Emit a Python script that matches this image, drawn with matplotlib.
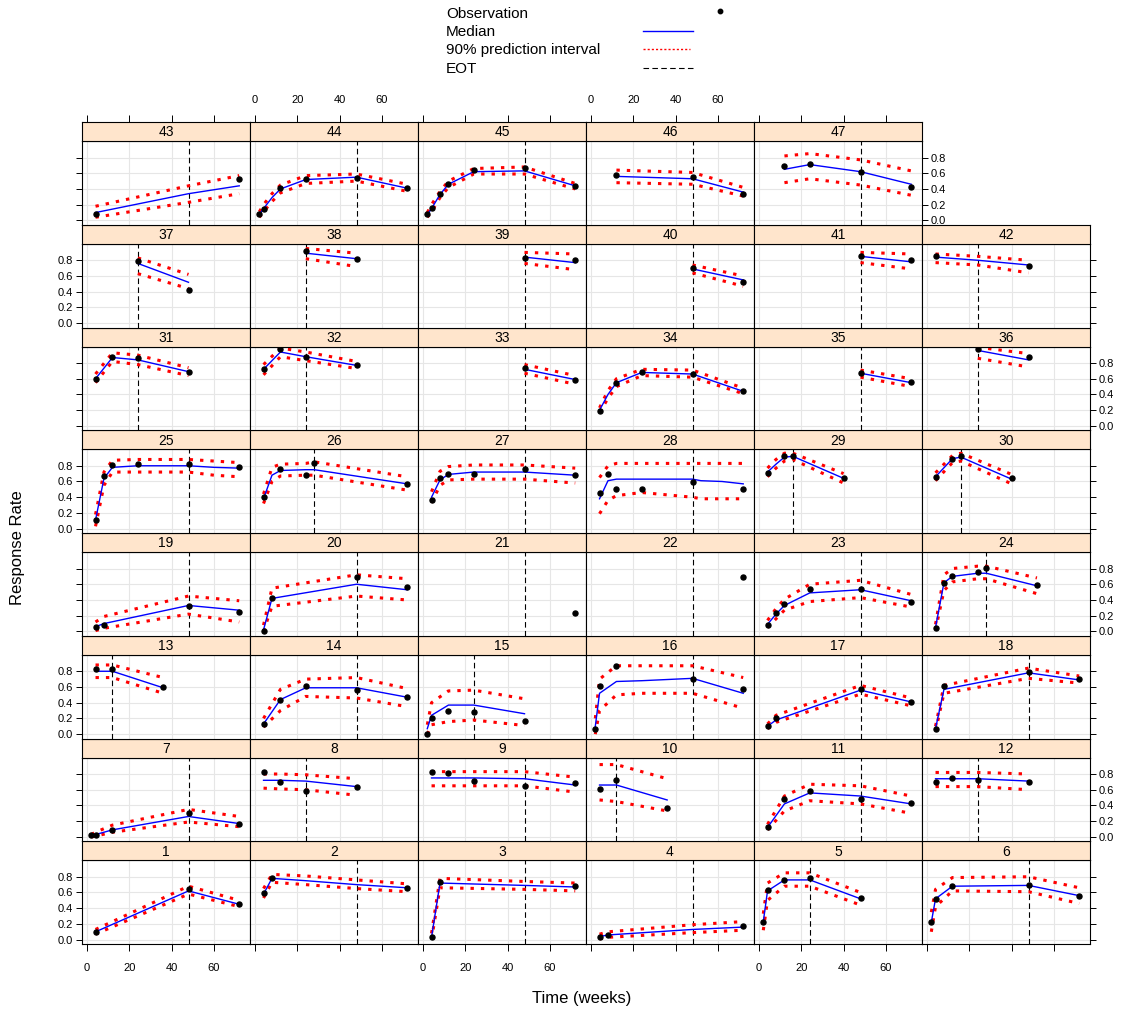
import matplotlib
matplotlib.use("Agg")
import matplotlib.pyplot as plt
from matplotlib.lines import Line2D

plt.rcParams['font.family'] = ['Liberation Sans', 'DejaVu Sans']

# observed response rate per subject (weeks, rate)
obs_t = {
    1: [4, 48, 72], 2: [4, 8, 72], 3: [4, 8, 72], 4: [4, 8, 72],
    5: [2, 4, 12, 24, 48], 6: [2, 4, 12, 48, 72],
    7: [2, 4, 12, 48, 72], 8: [4, 12, 24, 48], 9: [4, 12, 24, 48, 72],
    10: [4, 12, 36], 11: [4, 12, 24, 48, 72], 12: [4, 12, 24, 48],
    13: [4, 12, 36], 14: [4, 12, 24, 48, 72], 15: [2, 4, 12, 24, 48],
    16: [2, 4, 12, 48, 72], 17: [4, 8, 48, 72], 18: [4, 8, 48, 72],
    19: [4, 8, 48, 72], 20: [4, 8, 48, 72], 21: [72], 22: [72],
    23: [4, 8, 12, 24, 48, 72], 24: [4, 8, 12, 24, 28, 52],
    25: [4, 8, 12, 24, 48, 72], 26: [4, 12, 24, 28, 72],
    27: [4, 8, 12, 24, 48, 72], 28: [4, 8, 12, 24, 48, 72],
    29: [4, 12, 16, 40], 30: [4, 12, 16, 40],
    31: [4, 12, 24, 48], 32: [4, 12, 24, 48], 33: [48, 72],
    34: [4, 12, 24, 48, 72], 35: [48, 72], 36: [24, 48],
    37: [24, 48], 38: [24, 48], 39: [48, 72], 40: [48, 72], 41: [48, 72],
    42: [4, 48], 43: [4, 72], 44: [2, 4, 12, 24, 48, 72],
    45: [2, 4, 8, 12, 24, 48, 72], 46: [12, 48, 72], 47: [12, 24, 48, 72],
}
obs_y = {
    1: [0.10, 0.64, 0.46], 2: [0.59, 0.78, 0.66], 3: [0.03, 0.73, 0.68],
    4: [0.03, 0.06, 0.17], 5: [0.23, 0.63, 0.76, 0.79, 0.53],
    6: [0.22, 0.52, 0.68, 0.70, 0.56],
    7: [0.02, 0.02, 0.09, 0.31, 0.17], 8: [0.83, 0.70, 0.59, 0.63],
    9: [0.83, 0.81, 0.71, 0.65, 0.69], 10: [0.61, 0.72, 0.37],
    11: [0.12, 0.48, 0.59, 0.48, 0.43], 12: [0.70, 0.75, 0.72, 0.70],
    13: [0.83, 0.83, 0.60], 14: [0.13, 0.44, 0.61, 0.56, 0.47],
    15: [0.00, 0.21, 0.30, 0.28, 0.17], 16: [0.07, 0.61, 0.87, 0.70, 0.57],
    17: [0.10, 0.20, 0.58, 0.41], 18: [0.07, 0.61, 0.79, 0.70],
    19: [0.05, 0.08, 0.32, 0.25], 20: [0.01, 0.43, 0.69, 0.56],
    21: [0.24], 22: [0.69],
    23: [0.08, 0.23, 0.35, 0.54, 0.54, 0.38],
    24: [0.04, 0.62, 0.70, 0.75, 0.81, 0.59],
    25: [0.11, 0.67, 0.81, 0.82, 0.82, 0.79],
    26: [0.40, 0.76, 0.68, 0.83, 0.57],
    27: [0.37, 0.64, 0.70, 0.70, 0.76, 0.68],
    28: [0.45, 0.70, 0.51, 0.51, 0.59, 0.51],
    29: [0.71, 0.93, 0.93, 0.64], 30: [0.66, 0.89, 0.92, 0.64],
    31: [0.60, 0.88, 0.87, 0.69], 32: [0.72, 0.98, 0.88, 0.78],
    33: [0.74, 0.59], 34: [0.19, 0.55, 0.69, 0.66, 0.44], 35: [0.67, 0.56],
    36: [0.98, 0.88], 37: [0.79, 0.42], 38: [0.92, 0.82], 39: [0.83, 0.80],
    40: [0.70, 0.52], 41: [0.86, 0.80], 42: [0.86, 0.73], 43: [0.08, 0.53],
    44: [0.08, 0.15, 0.41, 0.53, 0.54, 0.41],
    45: [0.08, 0.16, 0.34, 0.46, 0.64, 0.67, 0.44],
    46: [0.58, 0.55, 0.34], 47: [0.69, 0.72, 0.62, 0.42],
}

# simulated median and 90% interval; times default to the observation times
pred_t = {
    2: [4, 8, 24, 48, 72], 3: [4, 8, 48, 72], 4: [4, 8, 48, 72],
    7: [2, 4, 12, 48, 72], 11: [4, 12, 24, 48, 72], 12: [4, 24, 48],
    16: [2, 4, 12, 24, 48, 72], 21: [], 22: [],
    25: [4, 8, 12, 24, 48, 60, 72], 26: [4, 8, 12, 24, 28, 72],
    28: [4, 8, 12, 24, 48, 52, 62, 72], 29: [4, 8, 12, 16, 40],
    34: [4, 8, 12, 24, 48, 72], 42: [4, 24, 48], 43: [4, 48, 72],
    44: [2, 4, 8, 12, 24, 48, 72],
}
pred_med = {
    1: [0.10, 0.62, 0.45], 2: [0.58, 0.78, 0.75, 0.70, 0.66],
    3: [0.03, 0.72, 0.69, 0.67], 4: [0.04, 0.06, 0.13, 0.16],
    5: [0.23, 0.62, 0.76, 0.76, 0.52], 6: [0.22, 0.52, 0.68, 0.69, 0.56],
    7: [0.02, 0.03, 0.09, 0.26, 0.17], 8: [0.72, 0.72, 0.71, 0.64],
    9: [0.75, 0.75, 0.75, 0.74, 0.66], 10: [0.66, 0.66, 0.47],
    11: [0.12, 0.42, 0.56, 0.52, 0.42], 12: [0.74, 0.74, 0.71],
    13: [0.80, 0.80, 0.59], 14: [0.13, 0.44, 0.59, 0.59, 0.47],
    15: [0.07, 0.24, 0.37, 0.37, 0.26], 16: [0.10, 0.52, 0.67, 0.68, 0.71, 0.52],
    17: [0.10, 0.18, 0.56, 0.41], 18: [0.07, 0.57, 0.78, 0.69],
    19: [0.06, 0.10, 0.33, 0.27], 20: [0.02, 0.42, 0.60, 0.53],
    21: [], 22: [],
    23: [0.09, 0.22, 0.33, 0.49, 0.53, 0.39],
    24: [0.05, 0.62, 0.70, 0.74, 0.74, 0.58],
    25: [0.11, 0.64, 0.78, 0.80, 0.80, 0.78, 0.77],
    26: [0.38, 0.68, 0.74, 0.75, 0.75, 0.57],
    27: [0.40, 0.62, 0.69, 0.72, 0.72, 0.68],
    28: [0.38, 0.61, 0.63, 0.63, 0.63, 0.61, 0.60, 0.57],
    29: [0.72, 0.82, 0.91, 0.92, 0.64], 30: [0.66, 0.89, 0.91, 0.63],
    31: [0.60, 0.87, 0.84, 0.69], 32: [0.72, 0.94, 0.88, 0.77],
    33: [0.72, 0.59], 34: [0.20, 0.40, 0.55, 0.68, 0.66, 0.44],
    35: [0.67, 0.55], 36: [0.96, 0.84], 37: [0.76, 0.52], 38: [0.89, 0.82],
    39: [0.84, 0.77], 40: [0.69, 0.55], 41: [0.85, 0.78],
    42: [0.84, 0.80, 0.74], 43: [0.10, 0.34, 0.44],
    44: [0.07, 0.15, 0.29, 0.40, 0.52, 0.55, 0.41],
    45: [0.07, 0.15, 0.33, 0.46, 0.62, 0.63, 0.44],
    46: [0.56, 0.53, 0.36], 47: [0.65, 0.71, 0.62, 0.46],
}
pred_lo = {
    1: [0.07, 0.58, 0.42], 2: [0.53, 0.73, 0.70, 0.65, 0.61],
    3: [0.00, 0.66, 0.64, 0.62], 4: [0.01, 0.03, 0.09, 0.12],
    5: [0.12, 0.50, 0.68, 0.68, 0.44], 6: [0.10, 0.42, 0.62, 0.61, 0.46],
    7: [0.00, 0.01, 0.06, 0.19, 0.13], 8: [0.62, 0.61, 0.60, 0.53],
    9: [0.65, 0.65, 0.65, 0.65, 0.57], 10: [0.47, 0.45, 0.33],
    11: [0.09, 0.33, 0.46, 0.42, 0.30], 12: [0.64, 0.64, 0.60],
    13: [0.72, 0.72, 0.52], 14: [0.09, 0.30, 0.48, 0.46, 0.35],
    15: [0.00, 0.12, 0.16, 0.18, 0.11], 16: [0.00, 0.30, 0.50, 0.52, 0.52, 0.33],
    17: [0.07, 0.15, 0.51, 0.36], 18: [0.04, 0.52, 0.71, 0.65],
    19: [0.01, 0.04, 0.22, 0.12], 20: [0.00, 0.32, 0.45, 0.40],
    21: [], 22: [],
    23: [0.05, 0.16, 0.27, 0.38, 0.43, 0.31],
    24: [0.02, 0.52, 0.63, 0.67, 0.67, 0.48],
    25: [0.03, 0.55, 0.72, 0.72, 0.72, 0.68, 0.66],
    26: [0.32, 0.60, 0.67, 0.68, 0.68, 0.49],
    27: [0.33, 0.55, 0.62, 0.63, 0.63, 0.58],
    28: [0.19, 0.36, 0.42, 0.46, 0.40, 0.38, 0.38, 0.38],
    29: [0.66, 0.77, 0.86, 0.88, 0.58], 30: [0.61, 0.84, 0.86, 0.57],
    31: [0.55, 0.82, 0.78, 0.64], 32: [0.65, 0.88, 0.83, 0.73],
    33: [0.67, 0.53], 34: [0.17, 0.35, 0.50, 0.64, 0.62, 0.41],
    35: [0.62, 0.50], 36: [0.86, 0.75], 37: [0.63, 0.44], 38: [0.82, 0.72],
    39: [0.76, 0.68], 40: [0.64, 0.47], 41: [0.77, 0.69],
    42: [0.77, 0.74, 0.64], 43: [0.04, 0.23, 0.34],
    44: [0.04, 0.11, 0.24, 0.35, 0.47, 0.50, 0.37],
    45: [0.04, 0.11, 0.29, 0.42, 0.59, 0.59, 0.40],
    46: [0.48, 0.46, 0.31], 47: [0.48, 0.53, 0.45, 0.32],
}
pred_hi = {
    1: [0.13, 0.68, 0.50], 2: [0.65, 0.83, 0.81, 0.76, 0.71],
    3: [0.08, 0.78, 0.74, 0.72], 4: [0.07, 0.10, 0.19, 0.23],
    5: [0.33, 0.72, 0.85, 0.85, 0.60], 6: [0.35, 0.64, 0.79, 0.80, 0.66],
    7: [0.03, 0.06, 0.15, 0.35, 0.26], 8: [0.80, 0.80, 0.79, 0.74],
    9: [0.83, 0.83, 0.83, 0.83, 0.76], 10: [0.92, 0.92, 0.74],
    11: [0.16, 0.52, 0.67, 0.65, 0.52], 12: [0.82, 0.82, 0.80],
    13: [0.88, 0.88, 0.72], 14: [0.20, 0.57, 0.70, 0.72, 0.58],
    15: [0.12, 0.40, 0.55, 0.56, 0.45], 16: [0.20, 0.70, 0.87, 0.87, 0.87, 0.72],
    17: [0.13, 0.24, 0.62, 0.46], 18: [0.10, 0.62, 0.84, 0.74],
    19: [0.12, 0.19, 0.45, 0.39], 20: [0.08, 0.55, 0.72, 0.67],
    21: [], 22: [],
    23: [0.14, 0.29, 0.41, 0.60, 0.65, 0.47],
    24: [0.09, 0.72, 0.80, 0.83, 0.83, 0.68],
    25: [0.18, 0.72, 0.87, 0.88, 0.88, 0.86, 0.84],
    26: [0.44, 0.78, 0.82, 0.83, 0.85, 0.66],
    27: [0.47, 0.73, 0.79, 0.81, 0.81, 0.77],
    28: [0.65, 0.80, 0.83, 0.83, 0.83, 0.83, 0.83, 0.83],
    29: [0.77, 0.88, 0.96, 0.96, 0.70], 30: [0.71, 0.93, 0.96, 0.69],
    31: [0.66, 0.93, 0.90, 0.74], 32: [0.78, 0.99, 0.94, 0.82],
    33: [0.78, 0.64], 34: [0.23, 0.45, 0.60, 0.72, 0.71, 0.48],
    35: [0.71, 0.60], 36: [1.00, 0.92], 37: [0.83, 0.62], 38: [0.95, 0.89],
    39: [0.90, 0.88], 40: [0.74, 0.60], 41: [0.90, 0.88],
    42: [0.88, 0.85, 0.80], 43: [0.18, 0.44, 0.57],
    44: [0.11, 0.20, 0.34, 0.45, 0.57, 0.59, 0.46],
    45: [0.10, 0.20, 0.37, 0.50, 0.66, 0.68, 0.47],
    46: [0.64, 0.61, 0.42], 47: [0.82, 0.85, 0.77, 0.63],
}

# end of treatment (weeks)
eot = {
    1: 48, 2: 48, 3: 48, 4: 48, 5: 24, 6: 48,
    7: 48, 8: 24, 9: 48, 10: 12, 11: 48, 12: 24,
    13: 12, 14: 48, 15: 24, 16: 48, 17: 48, 18: 48,
    19: 48, 20: 48, 21: 48, 22: 48, 23: 48, 24: 28,
    25: 48, 26: 28, 27: 48, 28: 48, 29: 16, 30: 16,
    31: 24, 32: 24, 33: 48, 34: 48, 35: 48, 36: 24,
    37: 24, 38: 24, 39: 48, 40: 48, 41: 48, 42: 24,
    43: 48, 44: 48, 45: 48, 46: 48, 47: 48,
}

x_ticks = [0, 20, 40, 60]
y_ticks = [0.0, 0.2, 0.4, 0.6, 0.8]
y_labels = ["0.0", "0.2", "0.4", "0.6", "0.8"]

W, H = 1143, 1015
fig = plt.figure(figsize=(W / 100, H / 100), dpi=100)


def fx(px):
    return px / W


def fy(py):
    return 1 - py / H


LEFT, PW = 82, 168
TOP, PITCH, SH = 122, 102.75, 19
XLIM = (-2.4, 77.1)
YLIM = (-0.055, 1.01)
STRIP = "#FFE5CC"
GRID = "#E6E6E6"
PI_DOTS = (1.1, 2.3)
n = max(obs_t)

for k in range(1, n + 1):
    r = (k - 1) // 6          # row, 0 = bottom
    c = (k - 1) % 6
    last = (c == 5) or (k == n)
    rt = TOP + (7 - r) * PITCH
    x0 = LEFT + c * PW

    ax = fig.add_axes([fx(x0), fy(rt + PITCH), PW / W, (PITCH - SH) / H])
    sx = fig.add_axes([fx(x0), fy(rt + SH), PW / W, SH / H])

    for xv in x_ticks:
        ax.axvline(xv, color=GRID, lw=0.8, zorder=0)
    for yv in y_ticks:
        ax.axhline(yv, color=GRID, lw=0.8, zorder=0)

    ax.axvline(eot[k], color="black", lw=0.8, dashes=(5, 3), zorder=2)

    tt = pred_t.get(k, obs_t[k])
    if tt:
        ax.plot(tt, pred_lo[k], color="red", lw=2.2, dashes=PI_DOTS,
                zorder=3)
        ax.plot(tt, pred_hi[k], color="red", lw=2.2, dashes=PI_DOTS,
                zorder=3)
        ax.plot(tt, pred_med[k], color="blue", lw=1.0, zorder=4)
    ax.plot(obs_t[k], obs_y[k], "o", color="black", ms=3.6, zorder=5)

    ax.set_xlim(XLIM)
    ax.set_ylim(YLIM)
    ax.set_xticks(x_ticks)
    ax.set_yticks(y_ticks)
    ax.set_yticklabels(y_labels)
    ax.tick_params(direction="out", length=4.5, width=0.7, labelsize=8,
                   pad=2, left=(c == 0), right=last,
                   labelleft=(c == 0 and r % 2 == 0),
                   labelright=(last and r % 2 == 1))
    ax.tick_params(axis="x", length=5, pad=9, bottom=(r == 0), top=False,
                   labelbottom=(r == 0 and c % 2 == 0), labeltop=False)
    for sp in ax.spines.values():
        sp.set_linewidth(0.8)

    sx.set_facecolor(STRIP)
    sx.set_xlim(XLIM)
    sx.set_ylim(0, 1)
    sx.set_yticks([])
    if r == 7:
        sx.set_xticks(x_ticks)
        sx.tick_params(direction="out", length=5, width=0.7, labelsize=8,
                       pad=7, bottom=False, top=True, labelbottom=False,
                       labeltop=(c % 2 == 1))
    else:
        sx.set_xticks([])
    for sp in sx.spines.values():
        sp.set_linewidth(0.8)
    sx.text(0.5, 0.45, str(k), transform=sx.transAxes, ha="center",
            va="center", fontsize=10)

fig.text(fx(582), fy(998), "Time (weeks)", ha="center", va="center",
         fontsize=12)
fig.text(fx(18), fy(548), "Response Rate", ha="center", va="center",
         rotation=90, fontsize=12)

# key at the top
keys = ["Observation", "Median", "90% prediction interval", "EOT"]
key_y = [14, 32, 50, 69]
for lab, yy in zip(keys, key_y):
    fig.text(fx(446), fy(yy), lab, ha="left", va="center", fontsize=11)
fig.add_artist(Line2D([fx(720)], [fy(11)], marker="o", ms=3.2,
                      color="black", linestyle="none"))
fig.add_artist(Line2D([fx(643), fx(693)], [fy(31), fy(31)], color="blue",
                      lw=1.0))
fig.add_artist(Line2D([fx(643), fx(690)], [fy(49), fy(49)], color="red",
                      lw=1.0, dashes=(1.5, 1.5)))
fig.add_artist(Line2D([fx(643), fx(693)], [fy(68), fy(68)], color="black",
                      lw=0.8, dashes=(5, 3)))

fig.savefig("out.png", dpi=100)
